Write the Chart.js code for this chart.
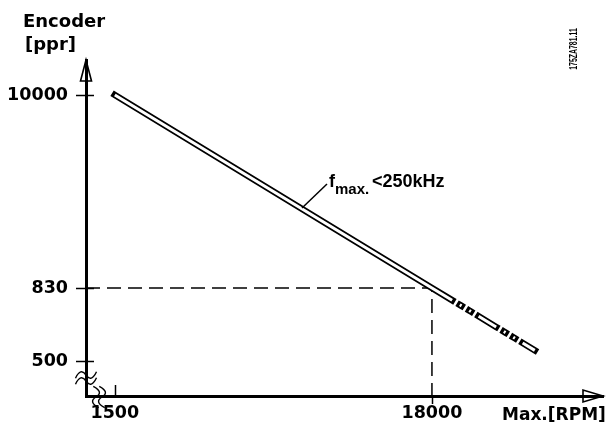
<!DOCTYPE html>
<html>
<head>
<meta charset="utf-8">
<script src="https://cdn.jsdelivr.net/npm/chart.js@4"></script>
<style>
  html, body { margin: 0; padding: 0; background: #fff; }
  canvas { display: block; }
</style>
</head>
<body>
<canvas id="c" width="606" height="430"></canvas>
<script>
// ---- data ----
const xTicks = [1500, 18000];            // Max. [RPM]
const yTicks = [500, 830, 10000];        // Encoder [ppr]
const lineRpm = [1500, 18000, 19050, 23350];
const linePpr = [10000, 830, 775, 548];
const solidCount = 3;                    // first points drawn solid, rest dashed
const guideRpm = [0, 18000, 18000];
const guidePpr = [830, 830, 0];

// schematic (piecewise linear) ppr axis: value stops -> fraction of axis height
const yStopValues = [0, 500, 830, 10000, 11500];
const yStopFractions = [0, 35 / 336, 108 / 336, 301 / 336, 1];

class PiecewiseScale extends Chart.LinearScale {
  _toDecimal(v) {
    const vs = yStopValues, fs = yStopFractions;
    for (let i = 1; i < vs.length; i++) {
      if (v <= vs[i] || i === vs.length - 1) {
        return fs[i - 1] + (v - vs[i - 1]) / (vs[i] - vs[i - 1]) * (fs[i] - fs[i - 1]);
      }
    }
    return 1;
  }
  _fromDecimal(d) {
    const vs = yStopValues, fs = yStopFractions;
    for (let i = 1; i < fs.length; i++) {
      if (d <= fs[i] || i === fs.length - 1) {
        return vs[i - 1] + (d - fs[i - 1]) / (fs[i] - fs[i - 1]) * (vs[i] - vs[i - 1]);
      }
    }
    return vs[vs.length - 1];
  }
  getPixelForValue(value) {
    if (value === null || value === undefined || isNaN(value)) return NaN;
    return this.getPixelForDecimal(this._toDecimal(value));
  }
  getValueForPixel(pixel) {
    return this._fromDecimal(this.getDecimalForPixel(pixel));
  }
}
PiecewiseScale.id = 'piecewise';
PiecewiseScale.defaults = Chart.LinearScale.defaults;
Chart.register(PiecewiseScale);

const pts = (xs, ys) => xs.map((x, i) => ({ x: x, y: ys[i] }));
const solidPts = pts(lineRpm.slice(0, solidCount), linePpr.slice(0, solidCount));
const dashPts = pts(lineRpm.slice(solidCount - 1), linePpr.slice(solidCount - 1));
const dashPattern = [2, 9, 2, 9, 20.5, 9];
const dashOffset = 42.5;

const base = { pointRadius: 0, tension: 0, fill: false, spanGaps: true };

const decor = {
  id: 'decor',
  afterDraw(chart) {
    const ctx = chart.ctx;
    const xs = chart.scales.x, ys = chart.scales.y;
    const ax = chart.chartArea.left, ay = chart.chartArea.bottom;
    const top = chart.chartArea.top, right = chart.chartArea.right;
    ctx.save();
    ctx.strokeStyle = '#000';
    ctx.fillStyle = '#000';
    ctx.lineCap = 'butt';

    // y ticks crossing the axis
    ctx.lineWidth = 1.5;
    yTicks.forEach(v => {
      const py = Math.round(ys.getPixelForValue(v)) + 0.5;
      ctx.beginPath(); ctx.moveTo(ax - 10, py); ctx.lineTo(ax + 8, py); ctx.stroke();
    });
    // x ticks
    let px = Math.round(xs.getPixelForValue(xTicks[0])) + 0.5;
    ctx.beginPath(); ctx.moveTo(px, ay - 11); ctx.lineTo(px, ay); ctx.stroke();
    px = Math.round(xs.getPixelForValue(xTicks[1])) + 0.5;
    ctx.beginPath(); ctx.moveTo(px, ay); ctx.lineTo(px, ay + 8); ctx.stroke();

    // arrows (open heads)
    ctx.lineWidth = 1.6;
    ctx.lineJoin = 'miter';
    ctx.beginPath();
    ctx.moveTo(ax, top); ctx.lineTo(ax - 5.5, top + 21); ctx.lineTo(ax + 5.5, top + 21); ctx.closePath();
    ctx.stroke();
    ctx.beginPath();
    ctx.moveTo(right, ay); ctx.lineTo(right - 20, ay - 6); ctx.lineTo(right - 20, ay + 6); ctx.closePath();
    ctx.stroke();

    // axis break marks
    function tilde(cx, cy, len, ang) {
      ctx.save();
      ctx.translate(cx, cy); ctx.rotate(ang);
      ctx.beginPath();
      const h = len / 2;
      ctx.moveTo(-h, 0);
      ctx.bezierCurveTo(-h / 2, -6, -h / 6, -6, 0, 0);
      ctx.bezierCurveTo(h / 6, 6, h / 2, 6, h, 0);
      ctx.stroke();
      ctx.restore();
    }
    ctx.lineWidth = 1.4;
    tilde(ax, ay - 21, 22, -0.3);
    tilde(ax, ay - 15, 22, -0.3);
    tilde(ax + 10, ay + 1, 22, Math.PI / 2 - 0.25);
    tilde(ax + 16, ay + 1, 22, Math.PI / 2 - 0.25);

    // axis titles
    ctx.textBaseline = 'alphabetic';
    ctx.textAlign = 'left';
    ctx.font = 'bold 18px "DejaVu Sans"';
    ctx.fillText('Encoder', 23, 27);
    ctx.fillText('[ppr]', 25, 50);
    ctx.font = 'bold 17px "DejaVu Sans"';
    ctx.fillText('Max.[RPM]', 502, 420);

    // annotation with leader
    ctx.lineWidth = 1.5;
    ctx.beginPath(); ctx.moveTo(327, 184); ctx.lineTo(302, 208); ctx.stroke();
    ctx.font = 'bold 18px "Liberation Sans"';
    ctx.fillText('f', 329, 187);
    ctx.font = 'bold 15px "Liberation Sans"';
    ctx.fillText('max.', 335, 194);
    ctx.font = 'bold 18px "Liberation Sans"';
    ctx.fillText('<250kHz', 372, 187);

    // drawing code, rotated
    ctx.save();
    ctx.translate(577, 49);
    ctx.rotate(-Math.PI / 2);
    ctx.scale(0.66, 1);
    ctx.textAlign = 'center';
    ctx.font = 'bold 10.5px "Liberation Sans"';
    ctx.fillText('175ZA781.11', 0, 0);
    ctx.restore();

    ctx.restore();
  }
};

new Chart(document.getElementById('c'), {
  type: 'line',
  data: {
    datasets: [
      Object.assign({}, base, { data: solidPts, borderColor: '#fff', borderWidth: 3, borderCapStyle: 'butt', order: 0 }),
      Object.assign({}, base, { data: dashPts, borderColor: '#fff', borderWidth: 3, borderCapStyle: 'butt',
        borderDash: dashPattern, borderDashOffset: dashOffset, order: 0 }),
      Object.assign({}, base, { data: solidPts, borderColor: '#000', borderWidth: 6.5, borderCapStyle: 'square', borderJoinStyle: 'round', order: 1 }),
      Object.assign({}, base, { data: dashPts, borderColor: '#000', borderWidth: 6.5, borderCapStyle: 'square',
        borderDash: dashPattern, borderDashOffset: dashOffset, order: 1 }),
      Object.assign({}, base, { data: pts(guideRpm, guidePpr), borderColor: '#000', borderWidth: 1.5,
        borderCapStyle: 'butt', borderDash: [14, 7], order: 2 })
    ]
  },
  options: {
    responsive: false,
    animation: false,
    devicePixelRatio: 1,
    layout: { padding: { top: 60, right: 3, left: 0, bottom: 0 } },
    plugins: { legend: { display: false }, tooltip: { enabled: false } },
    scales: {
      x: {
        type: 'linear', min: 0, max: 26900,
        afterBuildTicks: s => { s.ticks = xTicks.map(v => ({ value: v })); },
        afterFit: s => { s.height = 34; },
        grid: { display: false, drawTicks: false },
        border: { display: true, width: 3, color: '#000' },
        ticks: { autoSkip: false, maxRotation: 0, padding: 7, color: '#000',
          font: { family: 'DejaVu Sans', weight: 'bold', size: 17.5 },
          callback: v => String(v) }
      },
      y: {
        type: 'piecewise', min: 0, max: 11500,
        afterBuildTicks: s => { s.ticks = yTicks.map(v => ({ value: v })); },
        afterFit: s => { s.width = 86; },
        grid: { display: false, drawTicks: false },
        border: { display: true, width: 3, color: '#000' },
        ticks: { autoSkip: false, padding: 18, color: '#000',
          font: { family: 'DejaVu Sans', weight: 'bold', size: 17.5 },
          callback: v => String(v) }
      }
    }
  },
  plugins: [decor]
});
</script>
</body>
</html>
